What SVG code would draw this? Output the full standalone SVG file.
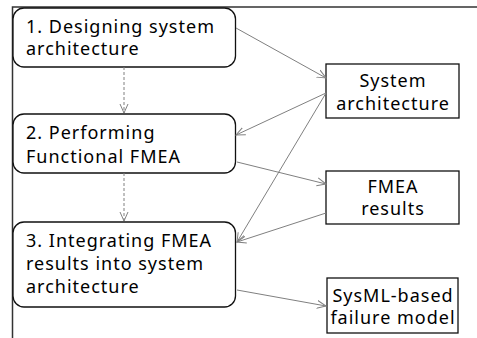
<svg xmlns="http://www.w3.org/2000/svg" width="477" height="338" viewBox="0 0 477 338">
<defs>
<style>
.frame{stroke:#333;stroke-width:1.5;fill:none}
.step{fill:#fff;stroke:#111;stroke-width:1.3}
.art{fill:#fff;stroke:#111;stroke-width:1.3}
.t{font-family:"Noto Sans","Open Sans","Liberation Sans",sans-serif;font-size:18px;fill:#000;letter-spacing:1px}
.c{text-anchor:middle}
.conn{stroke:#808080;stroke-width:1;fill:none;marker-end:url(#arr)}
.dash{stroke:#808080;stroke-width:1;fill:none;stroke-dasharray:3,2;marker-end:url(#arr)}
</style>
<marker id="arr" markerUnits="userSpaceOnUse" markerWidth="10" markerHeight="10" refX="9" refY="4" orient="auto" viewBox="0 0 10 8">
<path d="M0,0 L9,4 L0,8" fill="none" stroke="#808080" stroke-width="1"/>
</marker>
</defs>
<g id="frame">
<path class="frame" d="M12.5,338 V7 H477"/>
</g>
<g id="step1">
<rect class="step" x="13" y="8" width="222.5" height="59" rx="11"/>
<text class="t" x="26" y="33">1. Designing system</text>
<text class="t" x="26" y="55">architecture</text>
</g>
<g id="step2">
<rect class="step" x="13" y="114" width="222.5" height="59" rx="11"/>
<text class="t" x="26" y="139">2. Performing</text>
<text class="t" x="26" y="163">Functional FMEA</text>
</g>
<g id="step3">
<rect class="step" x="13" y="222" width="222.5" height="85" rx="11"/>
<text class="t" x="26" y="247">3. Integrating FMEA</text>
<text class="t" x="26" y="270">results into system</text>
<text class="t" x="26" y="293">architecture</text>
</g>
<g id="sysarch">
<rect class="art" x="326" y="64" width="133" height="54"/>
<text class="t c" x="393" y="87">System</text>
<text class="t c" x="393" y="110">architecture</text>
</g>
<g id="fmearesults">
<rect class="art" x="326" y="171" width="133" height="53"/>
<text class="t c" x="393" y="193">FMEA</text>
<text class="t c" x="393" y="215">results</text>
</g>
<g id="sysmlmodel">
<rect class="art" x="327" y="278" width="131" height="55"/>
<text class="t c" x="393" y="302">SysML-based</text>
<text class="t c" x="393" y="324">failure model</text>
</g>
<g id="connectors">
<path class="dash" d="M124,67 V113"/>
<path class="dash" d="M124,173 V221"/>
<path class="conn" d="M236,28 L326,78"/>
<path class="conn" d="M326,93 L236,135"/>
<path class="conn" d="M326,93 L237,242"/>
<path class="conn" d="M237,162 L326,184"/>
<path class="conn" d="M326,213 L237,242"/>
<path class="conn" d="M237,290 L326,306"/>
</g>
</svg>
